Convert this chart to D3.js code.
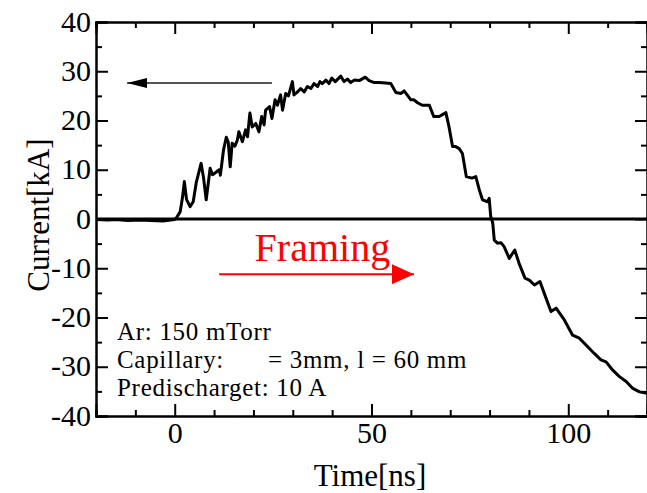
<!DOCTYPE html>
<html>
<head>
<meta charset="utf-8">
<script src="https://cdn.jsdelivr.net/npm/d3@7"></script>
<style>
  html, body { margin: 0; padding: 0; background: #fff; }
  svg { display: block; }
  text { font-family: "Liberation Serif", "Times New Roman", serif; }
</style>
</head>
<body>
<svg id="chart" width="647" height="493"></svg>
<script>
// Discharge current waveform: time [ns] and current [kA]
const timeNs = [
  -20, -17, -15, -12, -9, -6, -3, -1, 0, 0.5, 1.4, 2.0, 2.45, 3.0, 3.9, 4.7, 5.5, 6.7, 7.3, 8.0,
  9.0, 9.6, 10.2, 10.8, 11.3, 11.6, 12.4, 13.1, 13.6, 14.1, 14.6, 15.3, 15.9, 16.3, 17.2, 18.0,
  18.5, 19.1, 19.7, 20.6, 21.4, 22.1, 22.7, 23.1, 24.1, 24.7, 25.5, 26.1, 26.9, 27.4, 28.2, 28.9,
  29.9, 30.3, 31.2, 32.0, 32.9, 33.7, 34.6, 35.4, 36.3, 36.9, 37.5, 38.4, 39.2, 39.9, 40.8, 42.2,
  43.0, 43.9, 44.7, 45.6, 46.9, 48.4, 49.4, 50.7, 51.9, 53.6, 54.9, 56.2, 57.5, 58.3, 60.0, 60.8,
  61.7, 62.9, 64.7, 65.8, 67.2, 68.9, 69.7, 70.6, 71.4, 72.3, 73.1, 74.1, 75.5, 76.5, 77.4, 78.2,
  79.5, 79.9, 80.3, 80.8, 81.2, 82.0, 82.9, 83.7, 85.0, 86.4, 87.5, 89.0, 90.1, 91.4, 92.8, 93.9,
  95.6, 96.9, 99.0, 101.1, 102.8, 104.5, 106.6, 108.3, 109.6, 111.3, 113.0, 114.7, 116.4, 118.1, 120
];
const currentKA = [
  -0.1, -0.2, -0.1, -0.3, -0.2, -0.3, -0.4, -0.2, -0.1, 0.3, 1.5, 4.5, 7.6, 4.0, 2.5, 3.5, 7.5, 11.3, 8.5, 3.9,
  10.3, 9.0, 9.3, 9.7, 10.0, 8.9, 14.0, 16.6, 15.6, 10.6, 15.4, 14.8, 16.0, 17.7, 15.7, 18.1,
  16.7, 21.5, 18.7, 19.4, 17.7, 20.8, 19.1, 22.1, 22.8, 20.4, 24.2, 23.1, 25.2, 22.1, 25.5, 25.0,
  27.9, 25.2, 25.8, 26.5, 25.8, 26.9, 26.5, 27.5, 26.9, 27.9, 27.5, 28.2, 27.5, 28.6, 27.9, 29.0,
  27.9, 28.4, 27.7, 28.2, 28.1, 28.8, 28.1, 27.7, 27.7, 27.6, 27.5, 25.7, 25.5, 26.0, 24.2, 24.2,
  23.6, 23.1, 23.1, 20.8, 20.8, 21.6, 18.7, 14.7, 14.7, 14.3, 13.3, 8.6, 8.3, 8.6, 5.9, 3.9,
  3.5, 4.2, 0.5, -0.8, -4.3, -4.9, -4.8, -5.6, -8.0, -6.3, -9.0, -12.0, -12.4, -13.4, -12.7, -15.1,
  -18.8, -18.1, -20.5, -23.6, -24.2, -25.6, -27.3, -28.6, -29.0, -30.7, -32.0, -33.0, -34.4, -35.1, -35.4
];

const xMajorTicks = [0, 50, 100];
const xMinorTicks = [-20, -10, 10, 20, 30, 40, 60, 70, 80, 90, 110, 120];
const yMajorTicks = [-40, -30, -20, -10, 0, 10, 20, 30, 40];
const yMinorTicks = [-35, -25, -15, -5, 5, 15, 25, 35];

const infoLines = ["Ar: 150 mTorr", "Capillary:", "Predischarget: 10 A"];
const capillarySize = "= 3mm, l = 60 mm";
const framingLabel = "Framing";
const xTitle = "Time[ns]";
const yTitle = "Current[kA]";

(function () {
  const svg = d3.select("#chart");
  const plotLeft = 96, plotRight = 647, plotTop = 22, plotBottom = 416;

  const x = d3.scaleLinear().domain([-20, 120]).range([plotLeft, plotRight]);
  const y = d3.scaleLinear().domain([-40, 40]).range([plotBottom, plotTop]);

  const majorLen = 12, minorLen = 6;
  const fontSize = 30;
  const plainNumber = d => String(d);   // hyphen-minus for negatives

  // Axes: ticks pointing inwards on all four sides
  const axisBottom = d3.axisBottom(x).tickValues(xMajorTicks).tickSize(-majorLen).tickFormat(plainNumber);
  const axisBottomMinor = d3.axisBottom(x).tickValues(xMinorTicks).tickSize(-minorLen).tickFormat("");
  const axisTop = d3.axisTop(x).tickValues(xMajorTicks).tickSize(-majorLen).tickFormat("");
  const axisTopMinor = d3.axisTop(x).tickValues(xMinorTicks).tickSize(-minorLen).tickFormat("");
  const axisLeft = d3.axisLeft(y).tickValues(yMajorTicks).tickSize(-majorLen).tickFormat(plainNumber);
  const axisLeftMinor = d3.axisLeft(y).tickValues(yMinorTicks).tickSize(-minorLen).tickFormat("");
  const axisRight = d3.axisRight(y).tickValues(yMajorTicks).tickSize(-majorLen).tickFormat("");
  const axisRightMinor = d3.axisRight(y).tickValues(yMinorTicks).tickSize(-minorLen).tickFormat("");

  function styleAxis(g) {
    g.selectAll("path.domain").attr("stroke", "#000").attr("stroke-width", 2);
    g.selectAll(".tick line").attr("stroke", "#000").attr("stroke-width", 2);
    g.selectAll(".tick text").attr("fill", "#000")
      .style("font-family", "'Liberation Serif', 'Times New Roman', serif")
      .style("font-size", fontSize + "px");
  }

  svg.append("g").attr("transform", `translate(0,${plotBottom})`).call(axisBottom).call(styleAxis)
    .selectAll(".tick text").attr("y", 6).attr("dy", "0.71em");
  svg.append("g").attr("transform", `translate(0,${plotBottom})`).call(axisBottomMinor).call(styleAxis);
  svg.append("g").attr("transform", `translate(0,${plotTop})`).call(axisTop).call(styleAxis);
  svg.append("g").attr("transform", `translate(0,${plotTop})`).call(axisTopMinor).call(styleAxis);
  svg.append("g").attr("transform", `translate(${plotLeft},0)`).call(axisLeft).call(styleAxis)
    .selectAll(".tick text").attr("x", -5).attr("dy", "0.3em");
  svg.append("g").attr("transform", `translate(${plotLeft},0)`).call(axisLeftMinor).call(styleAxis);
  svg.append("g").attr("transform", `translate(${plotRight},0)`).call(axisRight).call(styleAxis);
  svg.append("g").attr("transform", `translate(${plotRight},0)`).call(axisRightMinor).call(styleAxis);

  // Axis titles
  svg.append("text")
    .attr("x", 370).attr("y", 486)
    .attr("text-anchor", "middle").attr("font-size", 31).attr("fill", "#000")
    .text(xTitle);
  svg.append("text")
    .attr("transform", `translate(49,${y(0.8)}) rotate(-90)`)
    .attr("text-anchor", "middle").attr("font-size", 31).attr("fill", "#000")
    .text(yTitle);

  // Clip region for the data
  svg.append("clipPath").attr("id", "plot-clip")
    .append("rect").attr("x", plotLeft).attr("y", plotTop)
    .attr("width", plotRight - plotLeft).attr("height", plotBottom - plotTop);

  // Zero line
  svg.append("line")
    .attr("x1", x(-20)).attr("x2", x(120)).attr("y1", y(0)).attr("y2", y(0))
    .attr("stroke", "#000").attr("stroke-width", 3);

  // Current waveform
  const points = timeNs.map((t, i) => [t, currentKA[i]]);
  const line = d3.line().x(d => x(d[0])).y(d => y(d[1]));
  svg.append("path")
    .datum(points)
    .attr("clip-path", "url(#plot-clip)")
    .attr("d", line)
    .attr("fill", "none")
    .attr("stroke", "#000")
    .attr("stroke-width", 3)
    .attr("stroke-linejoin", "round");

  // Arrow markers
  const defs = svg.append("defs");
  defs.append("marker").attr("id", "head-black")
    .attr("viewBox", "0 0 20 10").attr("refX", 20).attr("refY", 5)
    .attr("markerWidth", 20).attr("markerHeight", 10).attr("markerUnits", "userSpaceOnUse")
    .attr("orient", "auto")
    .append("path").attr("d", "M0,0 L20,5 L0,10 Z").attr("fill", "#000");
  defs.append("marker").attr("id", "head-red")
    .attr("viewBox", "0 0 22 20").attr("refX", 22).attr("refY", 10)
    .attr("markerWidth", 22).attr("markerHeight", 20).attr("markerUnits", "userSpaceOnUse")
    .attr("orient", "auto")
    .append("path").attr("d", "M0,0 L22,10 L0,20 Z").attr("fill", "#ff0000");

  // Black arrow pointing left (towards the current axis)
  svg.append("line")
    .attr("x1", x(24.7)).attr("y1", y(27.6)).attr("x2", x(-12.1)).attr("y2", y(27.6))
    .attr("stroke", "#555").attr("stroke-width", 2)
    .attr("marker-end", "url(#head-black)");

  // Red framing arrow
  svg.append("line")
    .attr("x1", x(11.3)).attr("y1", y(-11.2)).attr("x2", x(60.8)).attr("y2", y(-11.2))
    .attr("stroke", "#ff0000").attr("stroke-width", 2)
    .attr("marker-end", "url(#head-red)");
  svg.append("text")
    .attr("x", x(20.3)).attr("y", y(-8.6))
    .attr("font-size", 40).attr("fill", "#ff0000")
    .text(framingLabel);

  // Discharge conditions, one line per condition
  const lineGap = 27.7;
  const info = svg.append("g")
    .attr("font-size", 25).attr("letter-spacing", "0.7px").attr("fill", "#000");
  infoLines.forEach((s, i) => {
    info.append("text").attr("x", 117).attr("y", 340.3 + i * lineGap).text(s);
  });
  info.append("text").attr("x", 268).attr("y", 340.3 + lineGap).text(capillarySize);
})();
</script>
</body>
</html>
